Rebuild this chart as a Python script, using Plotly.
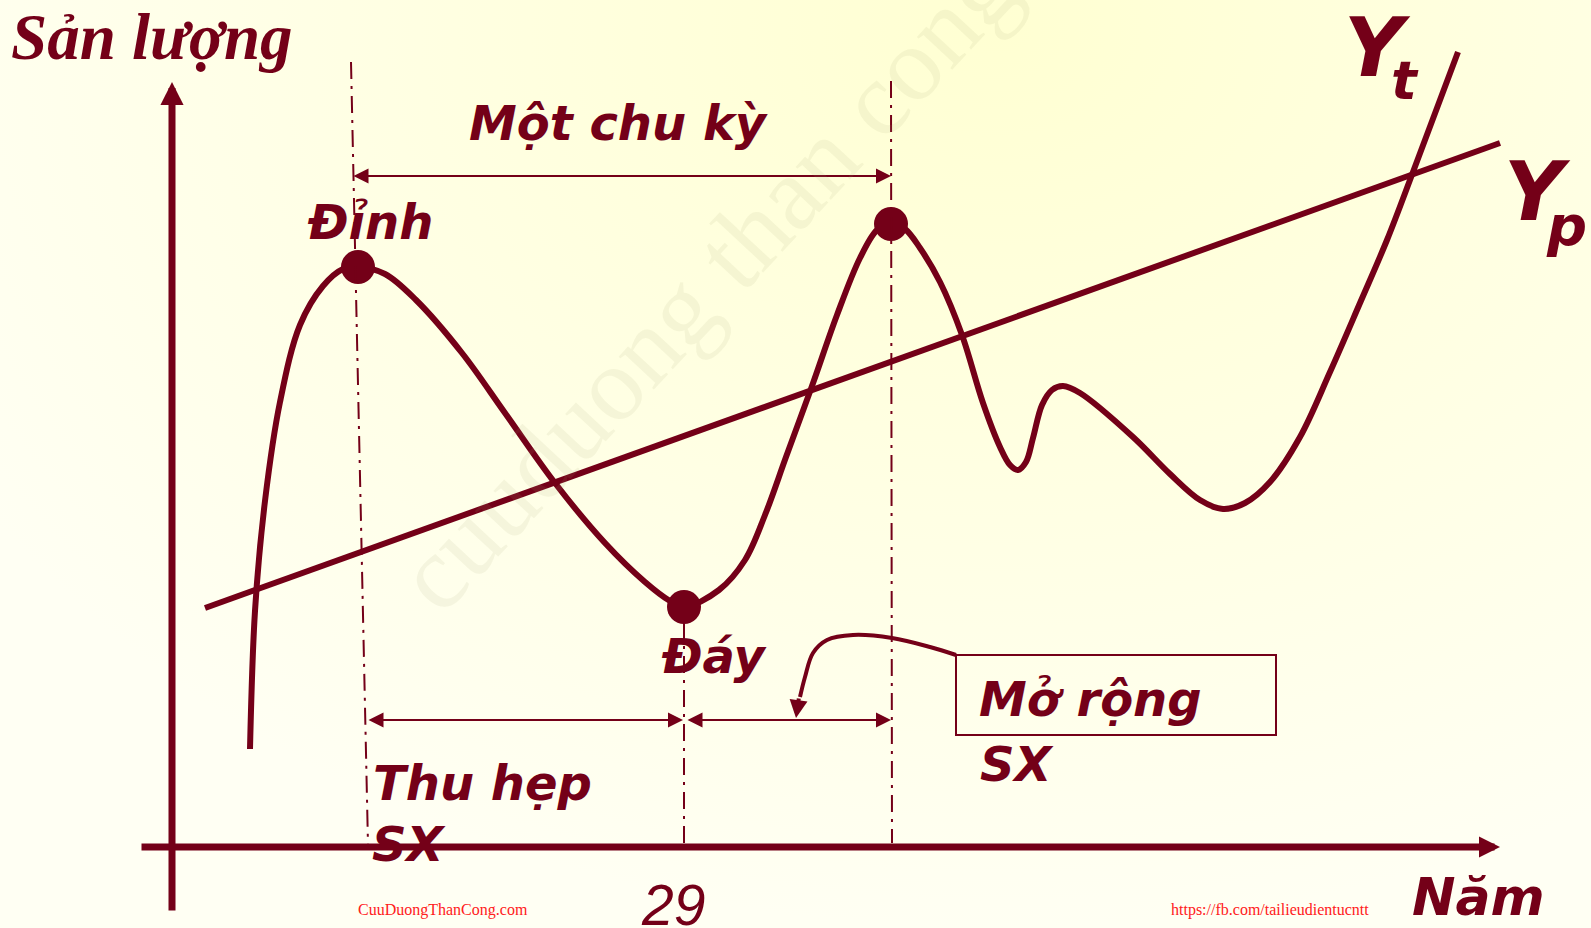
import plotly.graph_objects as go

W, H = 1591, 928
RED = "#740018"
WM_RED = "#FF2020"
BG_CENTER = "#FFFFD2"
BG_EDGE = "#FFFFF3"

# ---- data (picture coordinates: x to the right, y downward) ----
# actual output Yt
yt_x = [250, 255, 265, 280, 300, 323, 343, 358, 385, 416, 462, 505, 555, 605, 645, 670, 684,
        719, 745, 765, 786, 812, 837, 860, 877, 891, 905, 920, 940, 962, 983, 1000, 1010,
        1018, 1026, 1033, 1042, 1052, 1063, 1080, 1133, 1170, 1200, 1223, 1245, 1270, 1300,
        1330, 1360, 1387, 1413, 1458]
yt_y = [749, 611, 501, 402, 325, 286, 269, 267, 274, 300, 353, 413, 483, 543, 582, 601, 607,
        590, 560, 515, 457, 386, 315, 258, 230, 223, 229, 248, 282, 335, 403, 447, 465,
        470, 462, 438, 405, 390, 386, 393, 437, 474, 500, 509, 503, 482, 437,
        372, 303, 240, 172, 52]
# potential output Yp
yp_x = [205, 1500]
yp_y = [608, 143]
# turning points: peak, trough, next peak
tp_x = [358, 684, 891]
tp_y = [267, 607, 224]
# dash-dot guide lines
guide_x0 = [351, 684, 891]
guide_y0 = [62, 622, 81]
guide_x1 = [368, 684, 892]
guide_y1 = [845, 843, 843]
# callout curve from the "Mở rộng" box to the expansion span
call_x = [956, 930, 892, 853, 827, 813, 805, 800]
call_y = [655, 647, 638, 635, 640, 653, 677, 697]

fig = go.Figure()

# background
bg_x = [-200, 2200, 2200, -200, -200]
bg_y = [-870, -870, 930, 930, -870]
fig.add_trace(go.Scatter(x=bg_x, y=bg_y, mode="lines", fill="toself",
                         line=dict(width=0),
                         fillgradient=dict(type="radial",
                                           colorscale=[[0, BG_CENTER], [1, BG_EDGE]]),
                         hoverinfo="skip", showlegend=False))

fig.add_trace(go.Scatter(x=yp_x, y=yp_y, mode="lines",
                         line=dict(color=RED, width=6), showlegend=False))
fig.add_trace(go.Scatter(x=yt_x, y=yt_y, mode="lines",
                         line=dict(color=RED, width=6, shape="spline", smoothing=1.0),
                         showlegend=False))
fig.add_trace(go.Scatter(x=call_x, y=call_y, mode="lines",
                         line=dict(color=RED, width=4, shape="spline", smoothing=1.0),
                         showlegend=False))
fig.add_trace(go.Scatter(x=tp_x, y=tp_y, mode="markers",
                         marker=dict(color=RED, size=34), showlegend=False))

shapes = []
for x0, y0, x1, y1 in zip(guide_x0, guide_y0, guide_x1, guide_y1):
    shapes.append(dict(type="line", x0=x0, y0=y0, x1=x1, y1=y1, xref="x", yref="y",
                       line=dict(color=RED, width=2, dash="17px,7px,3px,7px")))
shapes.append(dict(type="rect", x0=956, y0=655, x1=1276, y1=735, xref="x", yref="y",
                   line=dict(color=RED, width=2)))

ann = []


def arrow(x_tail, y_tail, x_head, y_head, width, size, both=False):
    ann.append(dict(x=x_head, y=y_head, ax=x_tail, ay=y_tail, xref="x", yref="y",
                    axref="x", ayref="y", text="", showarrow=True,
                    arrowhead=2, startarrowhead=2, arrowsize=size, startarrowsize=size,
                    arrowwidth=width, arrowcolor=RED,
                    arrowside="end+start" if both else "end"))


arrow(172, 912, 172, 82, 7, 0.66)
arrow(140, 847, 1500, 847, 7, 0.6)
arrow(352, 176, 891, 176, 2, 1.5, both=True)
arrow(367, 720, 683, 720, 2, 1.5, both=True)
arrow(686, 720, 891, 720, 2, 1.5, both=True)
arrow(799, 697, 796, 718, 4, 0.9)


def label(text, x, y, size, family="DejaVu Sans", weight="bold", style="italic",
          color=RED, xanchor="center", angle=0):
    ann.append(dict(x=x, y=y, xref="x", yref="y", text=text, showarrow=False,
                    xanchor=xanchor, yanchor="middle", textangle=angle,
                    font=dict(family=family, size=size, color=color,
                              weight=weight, style=style)))


# watermark
label("cuuduong than cong", 705, 282, 105, family="Liberation Serif", weight="normal",
      style="normal", color="rgba(160,160,120,0.11)", angle=-47)

label("Sản lượng", 152, 37, 65, family="Liberation Serif")
label("Một chu kỳ", 618, 123, 48)
label("Đỉnh", 370, 222, 48)
label("Đáy", 713, 656, 48)
label("Thu hẹp", 482, 783, 48)
label("SX", 409, 844, 48)
label("Mở rộng", 1090, 699, 48)
label("SX", 1017, 764, 48)
label("Y", 1377, 47, 82)
label("t", 1405, 80, 54)
label("Y", 1537, 191, 82)
label("p", 1566, 225, 56)
label("Năm", 1478, 897, 52)
label("29", 673, 905, 57, family="Liberation Sans", weight="normal")
label("CuuDuongThanCong.com", 443, 910, 16, family="Liberation Serif", weight="normal",
      style="normal", color=WM_RED)
label("https://fb.com/tailieudientucntt", 1270, 910, 16, family="Liberation Serif",
      weight="normal", style="normal", color=WM_RED)

fig.update_layout(
    width=W, height=H, margin=dict(l=0, r=0, t=0, b=0),
    paper_bgcolor=BG_EDGE, plot_bgcolor=BG_EDGE,
    xaxis=dict(range=[0, W], visible=False, fixedrange=True),
    yaxis=dict(range=[H, 0], visible=False, fixedrange=True),
    shapes=shapes, annotations=ann, showlegend=False,
)

fig.write_html("out.html", config={"displayModeBar": False},
               post_script="document.body.style.margin='0';"
                           "document.body.style.overflow='hidden';")
